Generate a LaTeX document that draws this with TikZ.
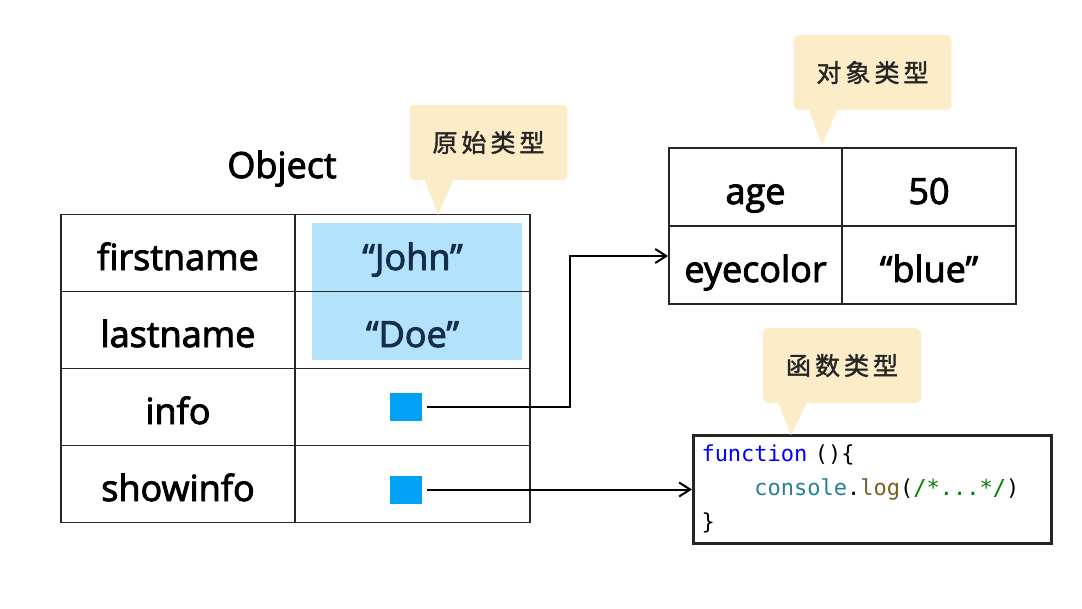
\documentclass[tikz,border=0pt]{standalone}
\usepackage{fontspec}
\setmainfont{Open Sans}
\setmonofont{DejaVu Sans Mono}
\newfontfamily\lblfont{Open Sans}[FakeBold=2.5]
\newfontfamily\cjk{Noto Sans CJK SC}[FakeBold=1.5]
\usetikzlibrary{arrows.meta}
\definecolor{hl}{RGB}{179,227,251}
\definecolor{sqc}{RGB}{0,160,245}
\definecolor{tipc}{RGB}{252,236,200}
\definecolor{navy}{RGB}{20,45,75}
\definecolor{kw}{RGB}{0,0,255}
\definecolor{objc}{RGB}{38,127,153}
\definecolor{fnc}{RGB}{121,94,38}
\definecolor{cmt}{RGB}{0,128,0}
\tikzset{
  lbl/.style={font=\lblfont\fontsize{36}{40}\selectfont, text height=36pt, text depth=2pt},
  cell/.style={draw=black!85, line width=1.8pt, minimum width=#1, minimum height=77pt,
    inner sep=0pt, lbl},
  ptr/.style={fill=sqc, minimum width=32pt, minimum height=28pt, inner sep=0pt},
  callout/.style={fill=tipc, rounded corners=5pt, minimum width=158pt, minimum height=75pt,
    inner sep=0pt, text=black!85, font=\cjk\fontsize{25}{28}\selectfont},
  arr/.style={line width=2pt, -{Straight Barb[length=11pt,width=14pt]}},
  code/.style={draw=black!85, line width=3pt, minimum height=108pt, text width=342pt,
    inner xsep=8pt, inner ysep=0pt, align=left, font=\ttfamily\fontsize{22}{34}\selectfont}
}
\newcommand{\cjkspace}{\hspace{4pt}}
\begin{document}
\begin{tikzpicture}[x=1pt,y=-1pt]
\useasboundingbox[fill=white] (0,0) rectangle (1082,608);
% title
\node[lbl, inner sep=0pt] (title) at (282,161) {Object};
% highlight
\fill[hl] (312,223) rectangle (522,360);
% left table
\node[cell=234pt] (k1) at (178,253) {firstname};
\node[cell=235pt] (v1) at (412.5,253) {\textcolor{navy}{“John”}};
\node[cell=234pt] (k2) at (178,330) {lastname};
\node[cell=235pt] (v2) at (412.5,330) {\textcolor{navy}{“Doe”}};
\node[cell=234pt] (k3) at (178,407) {info};
\node[cell=235pt] (v3) at (412.5,407) {};
\node[cell=234pt] (k4) at (178,484) {showinfo};
\node[cell=235pt] (v4) at (412.5,484) {};
\node[ptr] (sqA) at (406,406.5) {};
\node[ptr] (sqB) at (406,489.5) {};
% right table
\node[cell=173pt, minimum height=78pt] (age) at (755.5,187) {age};
\node[cell=174pt, minimum height=78pt] (ageV) at (929,187) {50};
\node[cell=173pt, minimum height=78pt] (eye) at (755.5,265) {eyecolor};
\node[cell=174pt, minimum height=78pt] (eyeV) at (929,265) {“blue”};
% function box
\node[code] (fn) at (872.5,489) {\textcolor{kw}{function} ()\{\\
\phantom{0000}\textcolor{objc}{console}.\textcolor{fnc}{log}(\textcolor{cmt}{/*...*/})\\
\}};
% callouts
\node[callout] (c1) at (488.5,142.5) {原\cjkspace 始\cjkspace 类\cjkspace 型};
\fill[tipc] ([xshift=-64pt,yshift=1pt]c1.south) -- ([xshift=-50.5pt,yshift=-35pt]c1.south) -- ([xshift=-35pt,yshift=1pt]c1.south) -- cycle;
\node[callout] (c2) at (872.5,72.5) {对\cjkspace 象\cjkspace 类\cjkspace 型};
\fill[tipc] ([xshift=-64pt,yshift=1pt]c2.south) -- ([xshift=-50.5pt,yshift=-35pt]c2.south) -- ([xshift=-35pt,yshift=1pt]c2.south) -- cycle;
\node[callout] (c3) at (842,365.5) {函\cjkspace 数\cjkspace 类\cjkspace 型};
\fill[tipc] ([xshift=-64pt,yshift=1pt]c3.south) -- ([xshift=-51pt,yshift=-32pt]c3.south) -- ([xshift=-35pt,yshift=1pt]c3.south) -- cycle;
% connectors
\draw[arr] ([xshift=5pt]sqA.east) -- ++(143,0) |- ([yshift=9pt]eye.west);
\draw[arr] ([xshift=5pt]sqB.east) -- (fn.west |- sqB.east);
\end{tikzpicture}
\end{document}
